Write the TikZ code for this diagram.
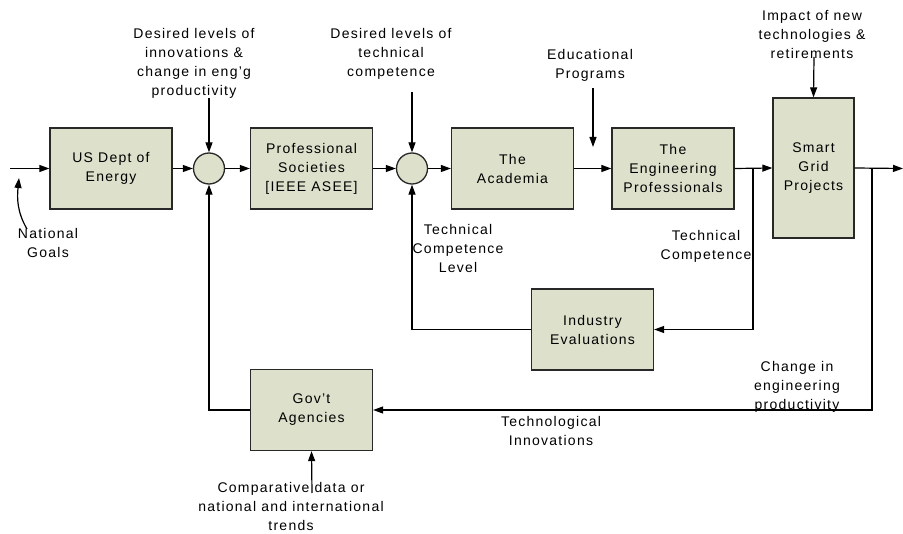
\documentclass[tikz,border=0pt]{standalone}
\usepackage{fontspec}
\setmainfont{Liberation Sans}[LetterSpace=9]
\usetikzlibrary{arrows.meta}
\definecolor{boxfill}{RGB}{221,224,203}
\definecolor{boxline}{RGB}{40,40,40}
\tikzset{
  blk/.style={draw=boxline, line width=1.3bp, fill=boxfill, minimum width=122bp, minimum height=81bp, align=center, inner sep=2bp},
  sumpt/.style={draw=boxline, line width=1.3bp, fill=boxfill, circle, minimum size=31bp, inner sep=0pt},
  lbl/.style={align=center, inner sep=0pt},
  arr/.style={-{Triangle[length=10bp,width=7bp]}, line width=1.2bp},
  ln/.style={line width=1.2bp},
}
\begin{document}
\begin{tikzpicture}[x=1bp,y=-1bp,font=\fontsize{14bp}{19bp}\selectfont]
\useasboundingbox (0,0) rectangle (903,534);
% blocks
\node[blk] (us) at (111,168.5) {US Dept of\\Energy};
\node[sumpt] (c1) at (209,168.5) {};
\node[blk] (ps) at (311.5,168.5) {Professional\\Societies\\{[IEEE ASEE]}};
\node[sumpt] (c2) at (412,168.5) {};
\node[blk] (ac) at (512.5,168.5) {The\\Academia};
\node[blk] (ep) at (673,168.5) {The\\Engineering\\Professionals};
\node[blk, minimum width=81bp, minimum height=140bp] (sg) at (813.5,168) {Smart\\Grid\\Projects};
\node[blk] (ie) at (592.5,329.5) {Industry\\Evaluations};
\node[blk] (ga) at (311.5,410) {Gov't\\Agencies};
% labels
\node[lbl] (t1) at (194,63.5) {Desired levels of\\innovations \&\\change in eng'g\\productivity};
\node[lbl] (t2) at (391,54) {Desired levels of\\technical\\competence};
\node[lbl] (t3) at (590,65.5) {Educational\\Programs};
\node[lbl] (t4) at (812,34.5) {Impact of new\\technologies \&\\retirements};
\node[lbl] (t5) at (458,248) {Technical\\Competence\\Level};
\node[lbl] (t6) at (706,246) {Technical\\Competence};
\node[lbl] (t7) at (797,387) {Change in\\engineering\\productivity};
\node[lbl] (t8) at (551,431) {Technological\\Innovations};
\node[lbl] (t9) at (291,506) {Comparative data or\\national and international\\trends};
\node[lbl] (t10) at (48,242.5) {National\\Goals};
% coordinates
\coordinate (in) at (10,168.5);
\coordinate (out) at (903,168.5);
\coordinate (b1) at (753,168.5);
\coordinate (b2) at (872,168.5);
\coordinate (d1) at (209,98);
\coordinate (d2) at (412,92);
\coordinate (e1) at (593,88);
\coordinate (e2) at (593,147);
\coordinate (i1) at (814,57);
\coordinate (k1) at (312,493);
\coordinate (g1) at (27,229);
\coordinate (g2) at (19,178);
% connectors
\draw[arr] (in) -- (us.west);
\draw[arr] (us.east) -- (c1.west);
\draw[arr] (c1.east) -- (ps.west);
\draw[arr] (ps.east) -- (c2.west);
\draw[arr] (c2.east) -- (ac.west);
\draw[arr] (ac.east) -- (ep.west);
\draw[arr] (ep.east) -- (sg.west);
\draw[arr] (sg.east) -- (out);
\draw[arr] (b1) |- (ie.east);
\draw[arr] (b2) |- (ga.east);
\draw[arr] (ie.west) -| (c2.south);
\draw[arr] (ga.west) -| (c1.south);
\draw[arr] (d1) -- (c1.north);
\draw[arr] (d2) -- (c2.north);
\draw[arr] (e1) -- (e2);
\draw[arr] (i1) -- (sg.north);
\draw[arr] (k1) -- (ga.south);
\draw[arr] (g1) .. controls (17,212) and (17,198) .. (g2);
\end{tikzpicture}
\end{document}
